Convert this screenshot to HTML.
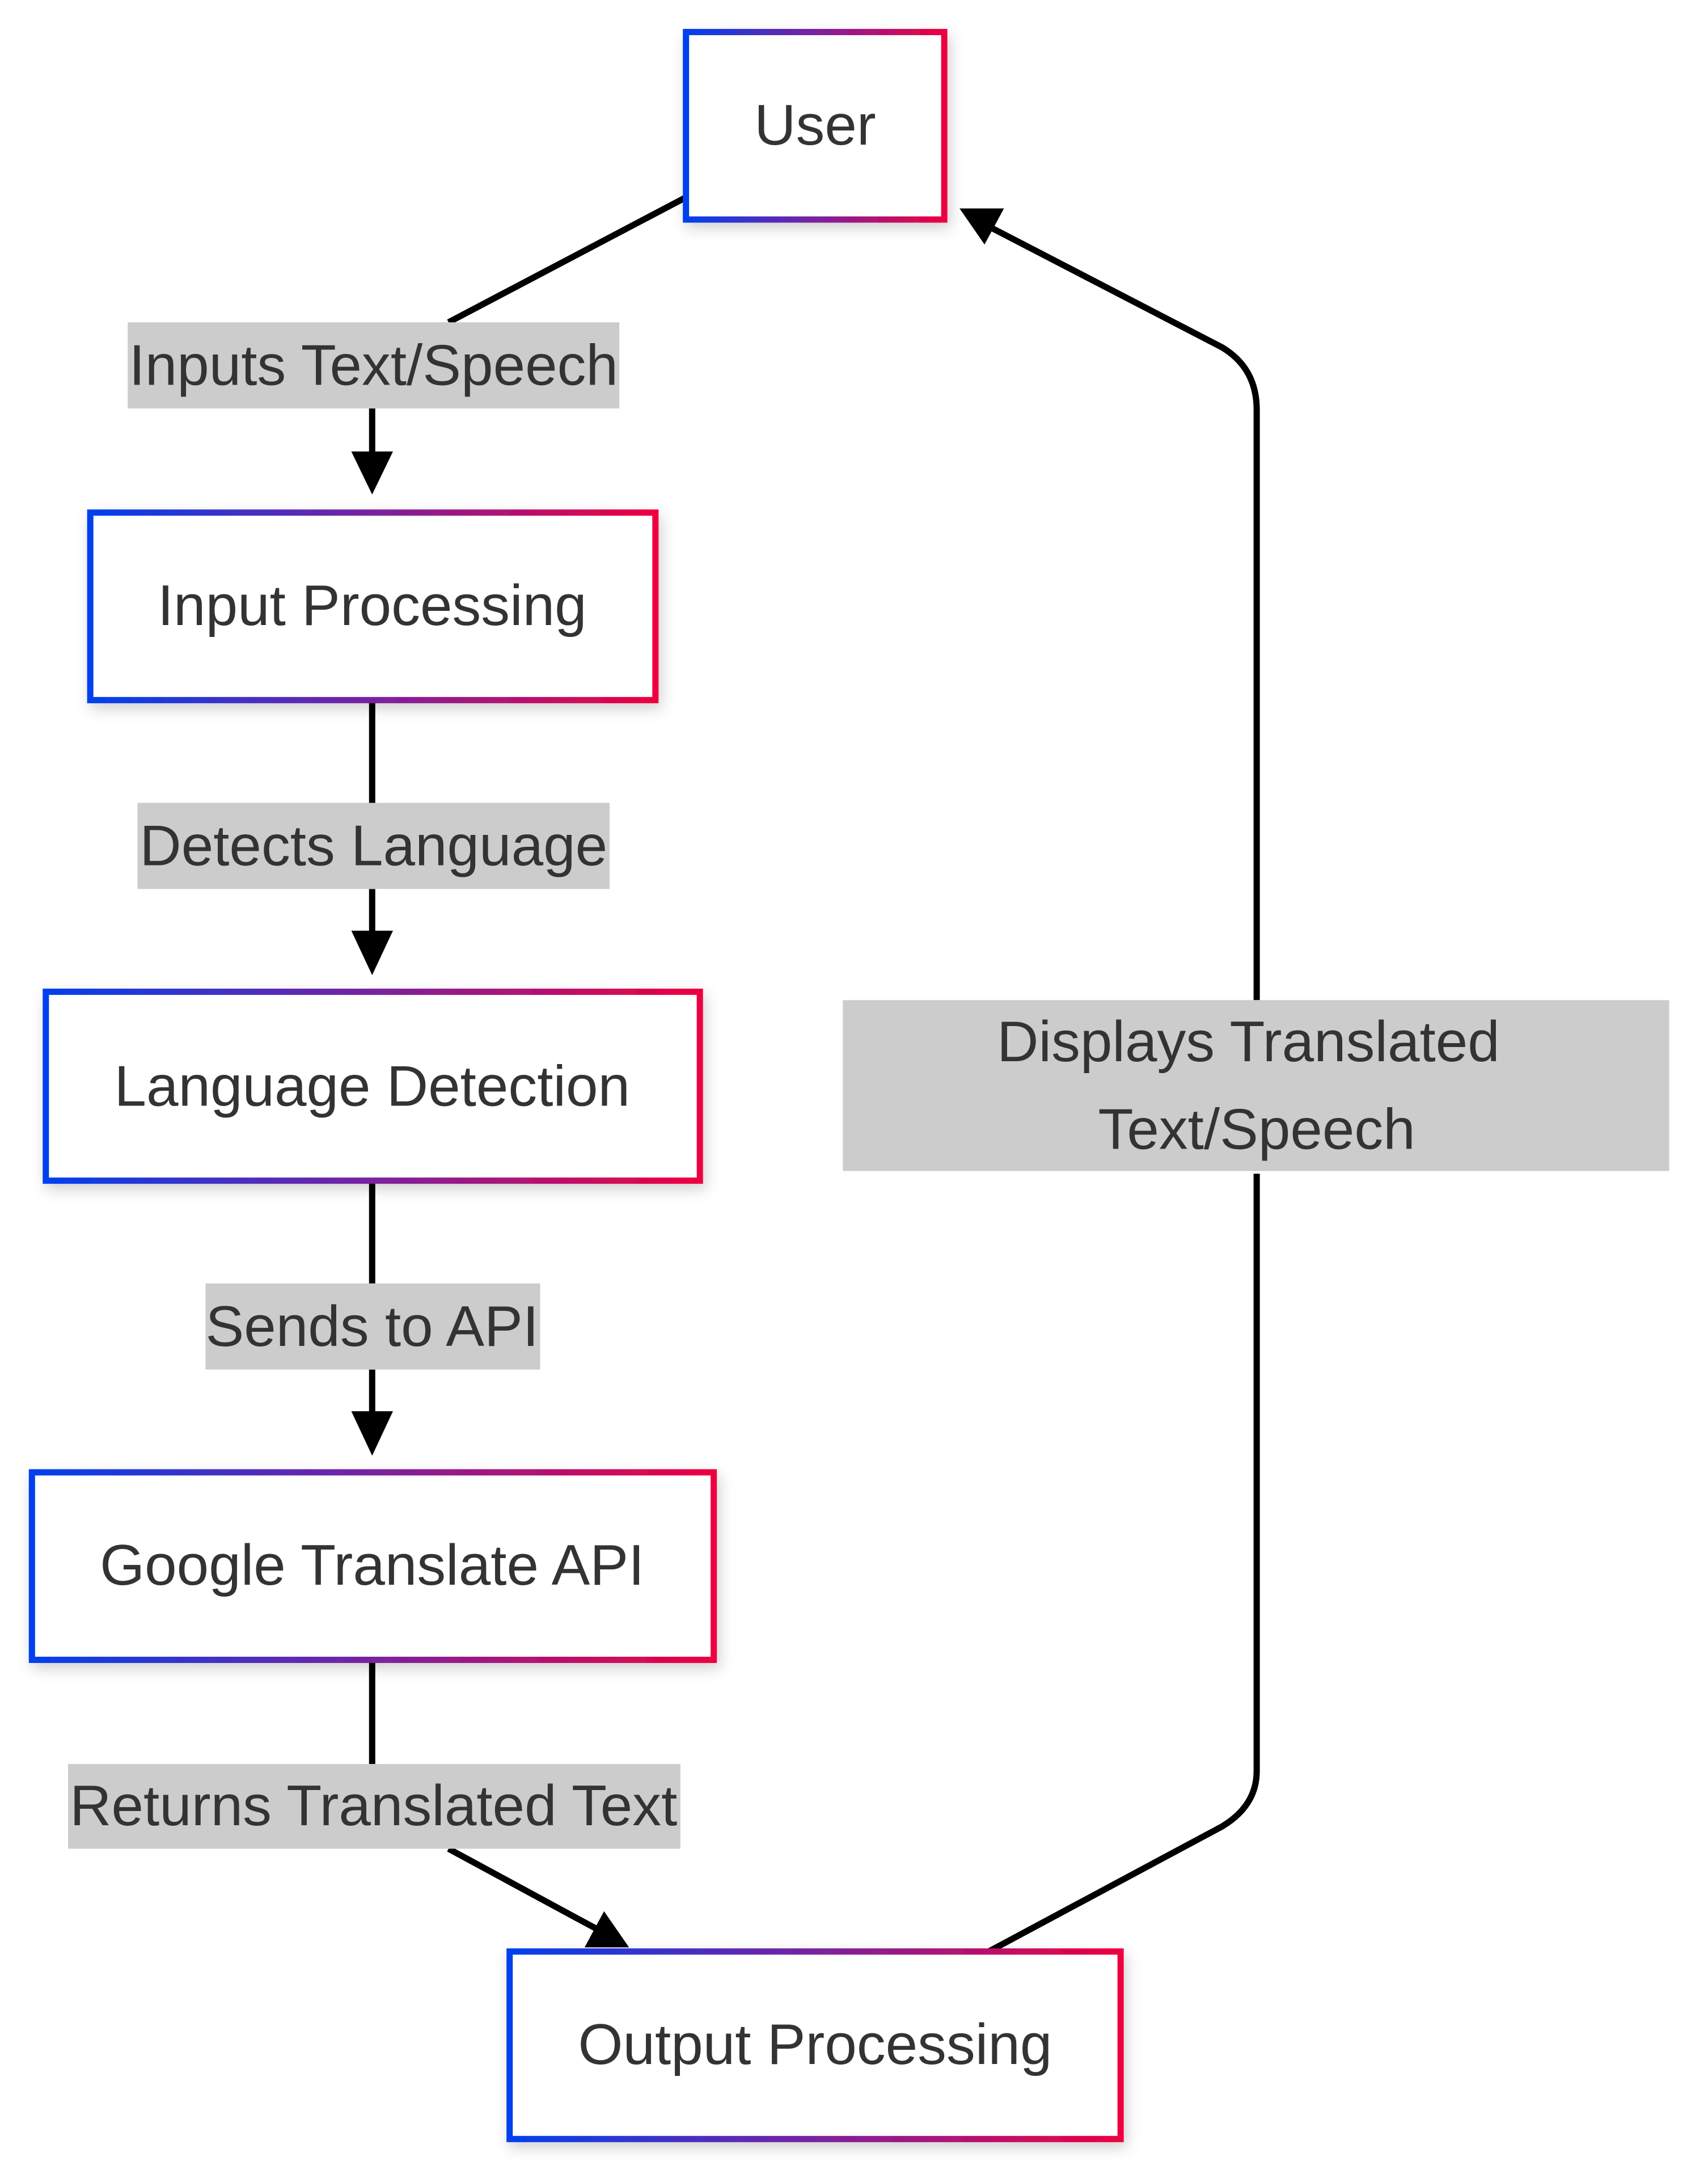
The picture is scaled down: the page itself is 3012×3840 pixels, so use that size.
<!DOCTYPE html>
<html><head><meta charset="utf-8"><style>
html,body{margin:0;padding:0;background:#fff;}
svg{display:block;}
text{font-family:"Liberation Sans",Arial,sans-serif;fill:#333;font-size:41.5px;}
</style></head><body>
<svg width="3012" height="3840" viewBox="0 0 1230 1568" xmlns="http://www.w3.org/2000/svg">
<defs>
<linearGradient id="g" x1="0" y1="0" x2="1" y2="0">
<stop offset="0" stop-color="#0040ee"/><stop offset="0.5" stop-color="#7a22a0"/><stop offset="1" stop-color="#ee0040"/>
</linearGradient>
<filter id="sh" x="-20%" y="-20%" width="140%" height="150%">
<feDropShadow dx="2" dy="4" stdDeviation="5" flood-color="#000" flood-opacity="0.18"/>
</filter>
</defs>
<rect width="1230" height="1568" fill="#fff"/>
<g fill="none" stroke="#000" stroke-width="4.5">
<path d="M494,142 L323,232"/><path d="M268,294 L268,327"/>
<path d="M268,504 L268,578"/><path d="M268,640 L268,672"/>
<path d="M268,850 L268,924"/><path d="M268,986 L268,1018"/>
<path d="M268,1195 L268,1270"/><path d="M323,1331 L432,1390"/>
<path d="M712,1405 L880,1315 Q905,1300 905,1275 L905,845"/>
<path d="M905,720 L905,295 Q905,265 880,250 L714,164"/>
</g>
<g fill="#000">
<polygon points="253,325 283,325 268,356"/>
<polygon points="253,670 283,670 268,702"/>
<polygon points="253,1016 283,1016 268,1048"/>
<polygon points="453,1402 421,1402 435,1376"/>
<polygon points="691,150 723,150 709,176"/>
</g>
<g fill="#ccc">
<rect x="92" y="232" width="354" height="62"/>
<rect x="99" y="578" width="340" height="62"/>
<rect x="148" y="924" width="241" height="62"/>
<rect x="49" y="1270" width="441" height="61"/>
<rect x="607" y="720" width="595" height="123"/>
</g>
<g text-anchor="middle">
<text x="269" y="277">Inputs Text/Speech</text>
<text x="269" y="623">Detects Language</text>
<text x="268" y="969">Sends to API</text>
<text x="269" y="1314">Returns Translated Text</text>
<text x="899" y="764">Displays Translated</text>
<text x="905" y="827">Text/Speech</text>
</g>
<g fill="#fff" stroke="url(#g)" stroke-width="4.5" filter="url(#sh)">
<rect x="494" y="23" width="186" height="135"/>
<rect x="65" y="369" width="407" height="135"/>
<rect x="33" y="714" width="471" height="136"/>
<rect x="23" y="1060" width="491" height="135"/>
<rect x="367" y="1405" width="440" height="135"/>
</g>
<g text-anchor="middle">
<text x="587" y="104">User</text>
<text x="268" y="450">Input Processing</text>
<text x="268" y="796">Language Detection</text>
<text x="268" y="1141">Google Translate API</text>
<text x="587" y="1486">Output Processing</text>
</g>
</svg>
</body></html>
